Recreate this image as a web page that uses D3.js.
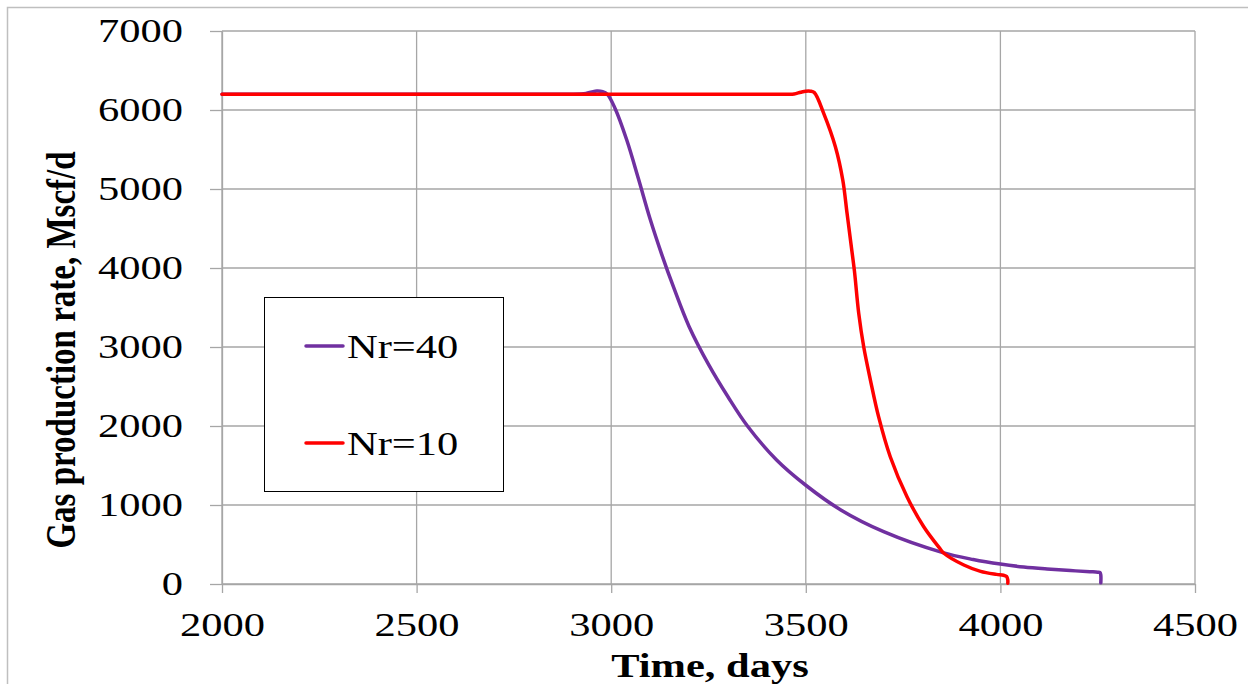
<!DOCTYPE html>
<html>
<head>
<meta charset="utf-8">
<script src="https://cdn.jsdelivr.net/npm/d3@7"></script>
<style>
  body { margin: 0; background: #fff; }
  svg { display: block; }
  text { font-family: "Liberation Serif", "Times New Roman", serif; fill: #000; }
</style>
</head>
<body>
<svg id="chart" width="1248" height="684"></svg>
<script>
// Nr=40 series (days, Mscf/d)
var days40 = [2000, 2500, 2800, 2900, 2935, 2950, 2963, 2978, 2990, 3010, 3040, 3070, 3100, 3130, 3160, 3200, 3250,
              3300, 3350, 3425, 3500, 3590, 3700, 3850, 3930, 4000, 4060, 4120, 4180, 4230, 4250, 4256, 4258, 4258];
var rate40 = [6200, 6200, 6200, 6200, 6210, 6228, 6240, 6232, 6200, 6020, 5620, 5130, 4620, 4170, 3760, 3260, 2780,
              2370, 2000, 1570, 1250, 937, 662, 400, 310, 252, 215, 190, 170, 156, 150, 146, 110, 15];

// Nr=10 series
var days10 = [2000, 2500, 3000, 3300, 3450, 3470, 3487, 3500, 3512, 3522, 3546, 3576, 3595, 3606, 3617, 3625, 3636,
              3649, 3666, 3687, 3717, 3760, 3803, 3846, 3854, 3906, 3949, 3990, 4008, 4016, 4019, 4019];
var rate10 = [6200, 6200, 6200, 6200, 6200, 6203, 6225, 6238, 6238, 6220, 5958, 5535, 5114, 4692, 4270, 3960, 3426,
              2996, 2582, 2118, 1611, 1105, 725, 440, 392, 240, 160, 122, 110, 95, 50, 10];

var seriesNames = ["Nr=40", "Nr=10"];
var seriesColors = ["#7030A0", "#FF0000"];

var xTicks = [2000, 2500, 3000, 3500, 4000, 4500];
var yTicks = [0, 1000, 2000, 3000, 4000, 5000, 6000, 7000];

var svg = d3.select("#chart");
var plotLeft = 222, plotRight = 1195, plotTop = 31, plotBottom = 584;

var x = d3.scaleLinear().domain([2000, 4500]).range([plotLeft, plotRight]);
var y = d3.scaleLinear().domain([0, 7000]).range([plotBottom, plotTop]);

// outer chart frame
svg.append("rect")
  .attr("x", 7.5).attr("y", 7.5)
  .attr("width", 1300).attr("height", 700)
  .attr("fill", "none").attr("stroke", "#bfbfbf").attr("stroke-width", 1.5);

// gridlines
var grid = svg.append("g").attr("class", "grid");
grid.selectAll("line.h").data(yTicks).enter().append("line")
  .attr("class", "h")
  .attr("x1", plotLeft).attr("x2", plotRight)
  .attr("y1", function(d) { return y(d); })
  .attr("y2", function(d) { return y(d); })
  .attr("stroke", "#a6a6a6").attr("stroke-width", 1.3);
grid.selectAll("line.v").data(xTicks).enter().append("line")
  .attr("class", "v")
  .attr("y1", plotTop).attr("y2", plotBottom)
  .attr("x1", function(d) { return x(d); })
  .attr("x2", function(d) { return x(d); })
  .attr("stroke", "#a6a6a6").attr("stroke-width", 1.3);

// axes
var yAxis = svg.append("g")
  .attr("transform", "translate(" + plotLeft + ",0)")
  .call(d3.axisLeft(y).tickValues(yTicks).tickSizeInner(12).tickSizeOuter(0).tickFormat(d3.format("d")));
var xAxis = svg.append("g")
  .attr("transform", "translate(0," + plotBottom + ")")
  .call(d3.axisBottom(x).tickValues(xTicks).tickSizeInner(9).tickSizeOuter(0).tickFormat(d3.format("d")));

[yAxis, xAxis].forEach(function(ax) {
  ax.attr("font-family", null).attr("font-size", null);
  ax.select(".domain").attr("stroke", "#a6a6a6").attr("stroke-width", 1.3);
  ax.selectAll(".tick line").attr("stroke", "#a6a6a6").attr("stroke-width", 1.3);
  ax.selectAll(".tick text")
    .attr("font-size", 34)
    .attr("fill", "#000")
    .attr("transform", "scale(1.25,1)");
});
yAxis.selectAll(".tick text")
  .attr("x", -31.2)
  .attr("dy", "0.32em");
xAxis.selectAll(".tick text")
  .attr("y", 52).attr("dy", 0);

// lines
var line = d3.line()
  .x(function(d) { return x(d[0]); })
  .y(function(d) { return y(d[1]); })
  .curve(d3.curveCatmullRom.alpha(0.5));

var data40 = days40.map(function(d, i) { return [d, rate40[i]]; });
var data10 = days10.map(function(d, i) { return [d, rate10[i]]; });

[data40, data10].forEach(function(series, i) {
  svg.append("path").datum(series)
    .attr("d", line)
    .attr("fill", "none")
    .attr("stroke", seriesColors[i])
    .attr("stroke-width", 3.5)
    .attr("stroke-linejoin", "round").attr("stroke-linecap", "round");
});

// axis titles
svg.append("text")
  .attr("transform", "translate(710,677) scale(1.25,1)")
  .attr("text-anchor", "middle")
  .attr("font-size", 34)
  .attr("font-weight", "bold")
  .text("Time, days");

svg.append("text")
  .attr("transform", "translate(75,350) scale(1.25,1) rotate(-90)")
  .attr("text-anchor", "middle")
  .attr("font-size", 33)
  .attr("font-weight", "bold")
  .text("Gas production rate, Mscf/d");

// legend
var legend = svg.append("g");
legend.append("rect")
  .attr("x", 264.5).attr("y", 297.5)
  .attr("width", 239).attr("height", 194)
  .attr("fill", "#fff").attr("stroke", "#000").attr("stroke-width", 1);

var legendY = [346, 443];
seriesNames.forEach(function(name, i) {
  legend.append("line")
    .attr("x1", 306).attr("x2", 343)
    .attr("y1", legendY[i]).attr("y2", legendY[i])
    .attr("stroke", seriesColors[i]).attr("stroke-width", 3.5)
    .attr("stroke-linecap", "round");
  legend.append("text")
    .attr("transform", "translate(347," + (legendY[i] + 12) + ") scale(1.25,1)")
    .attr("font-size", 34)
    .text(name);
});
</script>
</body>
</html>
